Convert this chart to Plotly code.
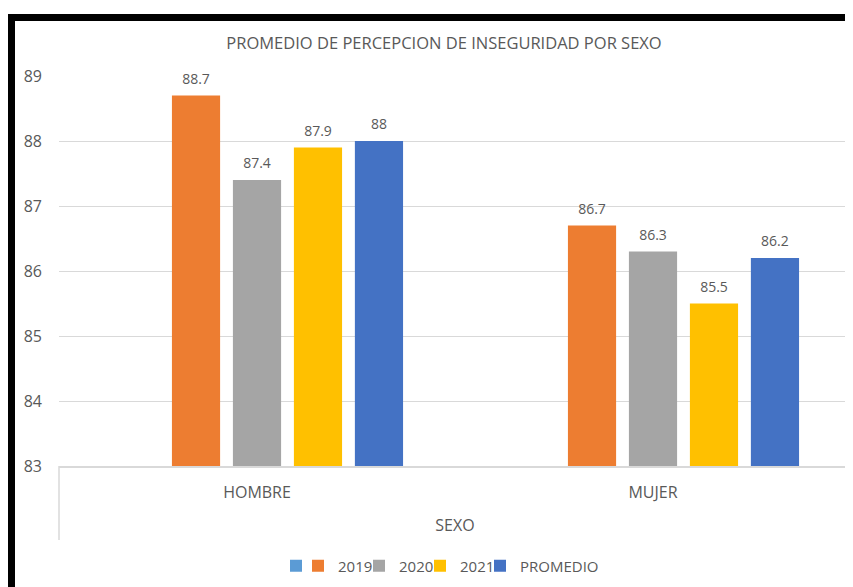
import plotly.graph_objects as go

# Datos del gráfico.
categorias = ["HOMBRE", "MUJER"]
series = ["", "2019", "2020", "2021", "PROMEDIO"]
valores = [
    [None, None],
    [88.7, 86.7],
    [87.4, 86.3],
    [87.9, 85.5],
    [88.0, 86.2],
]
etiquetas = [
    ["", ""],
    ["88.7", "86.7"],
    ["87.4", "86.3"],
    ["87.9", "85.5"],
    ["88", "86.2"],
]
colores = ["#5B9BD5", "#ED7D31", "#A5A5A5", "#FFC000", "#4472C4"]
ticks_y = [83, 84, 85, 86, 87, 88, 89]

# La página deja 8 px de margen alrededor de la figura.
OFF = 8
W, H = 853 - OFF, 587 - OFF
L, R, T, B = 51, 2, 68, 121
GRIS = "#595959"
FUENTE = "Open Sans"
# posición (px de página) del cuadrito de cada entrada de leyenda
pos_leyenda = [300, 322, 383, 444, 504]


def px_x(px):
    # px en coordenadas de la página
    return (px - OFF - L) / (W - L - R)


def px_y(py):
    return (H - B - (py - OFF)) / (H - T - B)


fig = go.Figure()
nombres_leyenda = ["legend"] + [f"legend{i}" for i in range(2, len(series) + 1)]
for nombre, ys, color in zip(series, valores, colores):
    fig.add_trace(go.Bar(
        x=categorias, y=ys, name=nombre, offsetgroup=nombre or "vacio",
        marker={"color": color, "line": {"width": 0}},
        showlegend=False, hoverinfo="skip",
    ))
for nombre, ys, txt in zip(series, valores, etiquetas):
    fig.add_trace(go.Scatter(
        x=categorias, y=ys, text=txt, mode="markers+text",
        offsetgroup=nombre or "vacio", textposition="top center",
        marker={"size": 12, "opacity": 0},
        textfont={"size": 14, "color": GRIS, "family": FUENTE},
        showlegend=False, cliponaxis=False, hoverinfo="skip",
    ))
# Entradas de leyenda (cuadritos pequeños como en Excel)
for nombre, color, ley in zip(series, colores, nombres_leyenda):
    fig.add_trace(go.Scatter(
        x=[None], y=[None], mode="markers", name=nombre, legend=ley,
        offsetgroup=nombre or "vacio",
        marker={"symbol": "square", "size": 12, "color": color},
        hoverinfo="skip",
    ))

leyendas = {}
for ley, xp in zip(nombres_leyenda, pos_leyenda):
    leyendas[ley] = {"orientation": "h", "yanchor": "middle", "y": px_y(566),
                     "x": px_x(xp - 24), "xanchor": "left",
                     "font": {"size": 15}, "itemwidth": 30,
                     "bgcolor": "rgba(0,0,0,0)"}

fig.update_layout(
    width=W, height=H,
    margin={"l": L, "r": R, "t": T, "b": B},
    paper_bgcolor="white", plot_bgcolor="white",
    barmode="group", bargap=0.23, bargroupgap=0.21,
    scattermode="group", scattergap=0.23,
    font={"family": FUENTE, "color": GRIS, "size": 16},
    title={"text": "PROMEDIO DE PERCEPCION DE INSEGURIDAD POR SEXO",
           "x": 0.516, "xanchor": "center", "y": 1 - (43 - OFF) / H, "yanchor": "middle",
           "font": {"size": 16.5, "color": GRIS}},
    showlegend=True,
    **leyendas,
)
fig.update_xaxes(
    showline=True, linecolor="#D9D9D9", linewidth=1.5, ticks="", showgrid=False,
    tickfont={"size": 16}, ticklabelstandoff=11,
    title={"text": "SEXO", "font": {"size": 16}, "standoff": 18},
)
fig.update_yaxes(
    range=[83, 89], tickvals=ticks_y, showgrid=True, gridcolor="#D9D9D9",
    gridwidth=1, zeroline=False, showline=False, tickfont={"size": 16},
    ticklabelstandoff=16,
)

gris_borde = "#D9D9D9"
for xp in (59, 851):
    fig.add_shape(type="line", xref="paper", yref="paper",
                  x0=px_x(xp), x1=px_x(xp), y0=0, y1=px_y(540),
                  line={"color": gris_borde, "width": 1.5})
# Marco negro
fig.add_shape(type="line", xref="paper", yref="paper",
              x0=px_x(11.5), x1=px_x(870), y0=px_y(17.5), y1=px_y(17.5),
              line={"color": "black", "width": 7})
fig.add_shape(type="line", xref="paper", yref="paper",
              x0=px_x(11.5), x1=px_x(11.5), y0=px_y(14), y1=px_y(600),
              line={"color": "black", "width": 7})

fig.write_html("out.html")
